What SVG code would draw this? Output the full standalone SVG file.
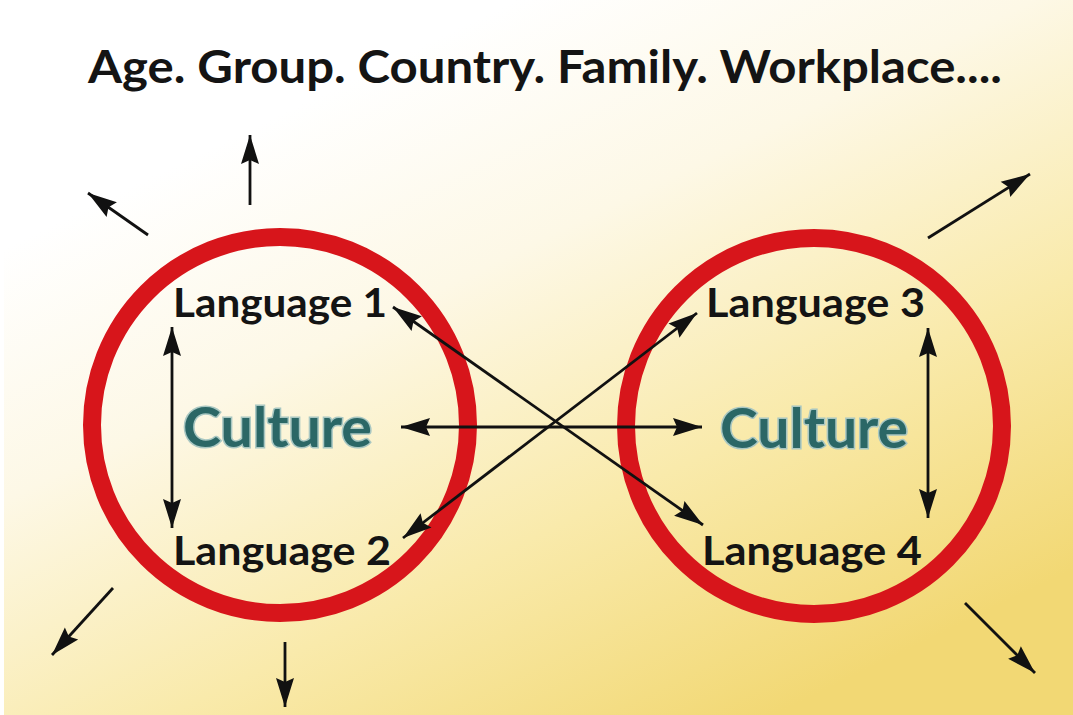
<svg xmlns="http://www.w3.org/2000/svg" width="1073" height="715" viewBox="0 0 1073 715">
<defs>
<linearGradient id="bg" gradientUnits="userSpaceOnUse" x1="330" y1="90" x2="660" y2="770">
<stop offset="0" stop-color="#ffffff"/>
<stop offset="0.3" stop-color="#fdf8e6"/>
<stop offset="0.65" stop-color="#f9eaab"/>
<stop offset="1" stop-color="#f2d874"/>
</linearGradient>
<marker id="ah" markerUnits="userSpaceOnUse" markerWidth="32" markerHeight="22" refX="29" refY="10" orient="auto-start-reverse" overflow="visible">
<path d="M0,1 L29,10 L0,19 L4,10 Z" fill="#111"/>
</marker>
</defs>
<style>
.ring{fill:none;stroke:#d7151b;stroke-width:18}
.lang{font-family:Lato,"Liberation Sans",sans-serif;font-size:40px;fill:#141414;font-weight:700}
.cult{font-family:Lato,"Liberation Sans",sans-serif;font-size:56px;font-weight:700;fill:#2b6766;stroke:#a9c7c2;stroke-width:3;paint-order:stroke}
.title{font-family:Lato,"Liberation Sans",sans-serif;font-size:46px;fill:#141414;font-weight:700}
.c{stroke:#111;stroke-width:2.8;fill:none}
.one{marker-end:url(#ah)}
.two{marker-start:url(#ah);marker-end:url(#ah)}
</style>
<rect x="0" y="0" width="1073" height="715" fill="url(#bg)"/>
<rect x="0" y="0" width="4" height="715" fill="#ffffff"/>
<text class="title" x="88" y="83" textLength="914" lengthAdjust="spacingAndGlyphs">Age. Group. Country. Family. Workplace....</text>
<g id="circle-left">
<circle class="ring" cx="280" cy="425" r="188"/>
</g>
<g id="circle-right">
<circle class="ring" cx="814" cy="426" r="188"/>
</g>
<g id="language1"><text class="lang" x="173" y="317" textLength="214" lengthAdjust="spacingAndGlyphs">Language 1</text></g>
<g id="language2"><text class="lang" x="173" y="565" textLength="218" lengthAdjust="spacingAndGlyphs">Language 2</text></g>
<g id="language3"><text class="lang" x="706" y="317" textLength="219" lengthAdjust="spacingAndGlyphs">Language 3</text></g>
<g id="language4"><text class="lang" x="702" y="565" textLength="220" lengthAdjust="spacingAndGlyphs">Language 4</text></g>
<g id="culture-left"><text class="cult" x="183" y="447" textLength="189" lengthAdjust="spacingAndGlyphs">Culture</text></g>
<g id="culture-right"><text class="cult" x="720" y="448" textLength="188" lengthAdjust="spacingAndGlyphs">Culture</text></g>
<g id="connectors">
<line class="c two" x1="172" y1="327" x2="172" y2="528"/>
<line class="c two" x1="928" y1="328" x2="928" y2="518"/>
<line class="c two" x1="401" y1="427" x2="702" y2="427"/>
<line class="c two" x1="393" y1="307" x2="703" y2="525"/>
<line class="c two" x1="403" y1="538" x2="697" y2="313"/>
<line class="c one" x1="250" y1="205" x2="250" y2="135"/>
<line class="c one" x1="148" y1="235" x2="88" y2="193"/>
<line class="c one" x1="113" y1="588" x2="52" y2="655"/>
<line class="c one" x1="285" y1="642" x2="285" y2="707"/>
<line class="c one" x1="928" y1="238" x2="1030" y2="174"/>
<line class="c one" x1="965" y1="603" x2="1035" y2="673"/>
</g>
</svg>
